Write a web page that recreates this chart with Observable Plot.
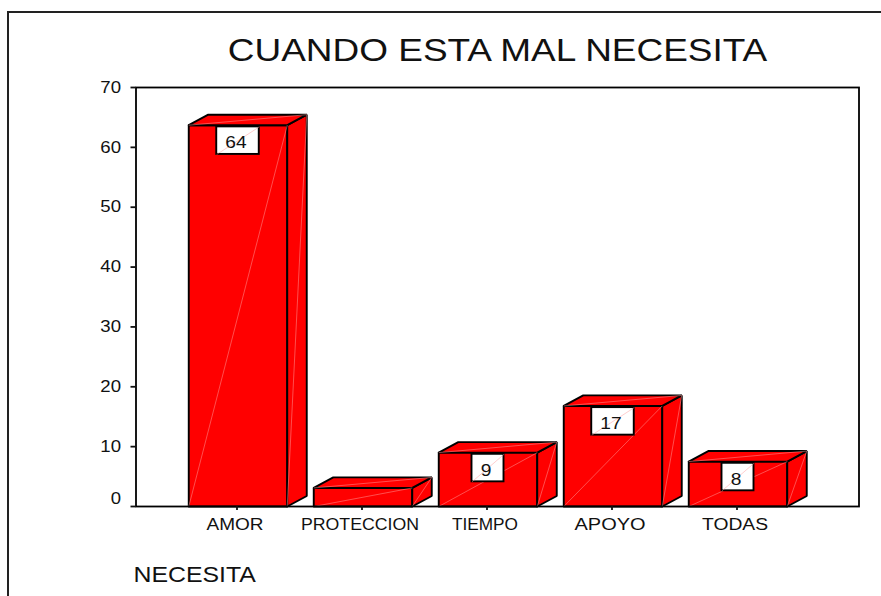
<!DOCTYPE html>
<html>
<head>
<meta charset="utf-8">
<script src="https://cdn.jsdelivr.net/npm/d3@7"></script>
<script src="https://cdn.jsdelivr.net/npm/@observablehq/plot@0.6"></script>
<style>
  html, body { margin: 0; padding: 0; background: #fff; }
  #page { position: relative; width: 881px; height: 596px; overflow: hidden; }
  #page svg { display: block; position: absolute; left: 0; top: 0; background: #fff; overflow: visible; }
  #border { position: absolute; left: 6.5px; top: 10.5px; right: -3px; bottom: -3px; border-left: 2px solid #222; border-top: 2px solid #222; pointer-events: none; }
</style>
</head>
<body>
<div id="page"><div id="border"></div></div>
<script>
const titleText = "CUANDO ESTA MAL NECESITA";
const axisTitle = "NECESITA";
const categories = ["AMOR", "PROTECCION", "TIEMPO", "APOYO", "TODAS"];
const values = [63.7, 3.1, 9, 16.8, 7.5];
const barLabels = ["64", null, "9", "17", "8"];
const yTicks = [10, 20, 30, 40, 50, 60, 70];
const categoryLabelWidths = {AMOR: 57, PROTECCION: 118, TIEMPO: 66, APOYO: 71, TODAS: 66};

const halfWidth = 0.394, depthX = 0.156, depthY = 1.76;
const fillRed = "#ff0000", pale = "#ff9c9c";

const faces = [], diagonals = [];
values.forEach((v, i) => {
  const l = i - halfWidth, r = i + halfWidth;
  const polys = {
    front: [[l, 0], [r, 0], [r, v], [l, v]],
    side: [[r, 0], [r + depthX, depthY], [r + depthX, v + depthY], [r, v]],
    top: [[l, v], [r, v], [r + depthX, v + depthY], [l + depthX, v + depthY]]
  };
  for (const [name, pts] of Object.entries(polys)) {
    [...pts, pts[0]].forEach(([x, y]) => faces.push({face: i + name, x, y}));
  }
  diagonals.push({x1: l, y1: 0, x2: r, y2: v});
  diagonals.push({x1: r, y1: 0, x2: r + depthX, y2: v + depthY});
  diagonals.push({x1: l, y1: v, x2: r + depthX, y2: v + depthY});
});

const boxes = barLabels.map((t, i) => t == null ? null : ({
  t, i,
  x1: i - (t.length > 1 ? 0.17 : 0.128),
  x2: i + (t.length > 1 ? 0.17 : 0.128),
  y2: values[i] - 0.28,
  y1: values[i] - 0.28 - 4.6
})).filter(Boolean);

const chart = Plot.plot({
  width: 881,
  height: 596,
  marginLeft: 135.5,
  marginRight: 22.5,
  marginTop: 87,
  marginBottom: 90,
  style: {fontFamily: "'Liberation Sans', Arial, sans-serif", color: "#111", background: "#fff"},
  x: {domain: [-0.816, 4.968], axis: null},
  y: {domain: [0, 70], axis: null},
  marks: [
    Plot.line(faces, {x: "x", y: "y", z: "face", fill: fillRed, stroke: "#000", strokeWidth: 1.9, strokeLinejoin: "miter"}),
    Plot.link(diagonals, {x1: "x1", y1: "y1", x2: "x2", y2: "y2", stroke: pale, strokeWidth: 0.5}),
    Plot.rect(boxes, {x1: "x1", x2: "x2", y1: "y1", y2: "y2", fill: "#fff", stroke: "#000", strokeWidth: 1.9}),
    Plot.link(boxes, {x1: "x1", y1: "y1", x2: "x2", y2: "y2", stroke: pale, strokeWidth: 0.5}),
    Plot.text(boxes, {x: "i", y: d => (d.y1 + d.y2) / 2, text: "t", fontSize: 17, fill: "#111", dx: -2, dy: 2}),
    Plot.frame({stroke: "#000", strokeWidth: 1.8}),
    Plot.axisX({ticks: categories.map((_, i) => i), text: null, tickSize: 4, anchor: "bottom", label: null, strokeWidth: 1.8, dx: -1}),
    Plot.axisX({ticks: categories.map((_, i) => i), tickFormat: i => categories[i], tickSize: 0, tickPadding: 12, fontSize: 16, tickRotate: 0, anchor: "bottom", label: null, fill: "#111", dx: -3}),
    Plot.axisY({ticks: yTicks, tickSize: 5, tickPadding: 10, fontSize: 16.5, anchor: "left", label: null, strokeWidth: 1.8, tickFormat: d => String(d)}),
    Plot.axisY({ticks: [0], tickSize: 5, text: null, anchor: "left", label: null, strokeWidth: 1.8}),
    Plot.axisY({ticks: [0], tickSize: 0, tickPadding: 15, fontSize: 16.5, anchor: "left", label: null, dy: -8, tickFormat: d => String(d)}),
    Plot.text([titleText], {frameAnchor: "top", dy: -37, lineAnchor: "middle", textAnchor: "middle", fontSize: 32, fill: "#111"}),
    Plot.text([axisTitle], {frameAnchor: "bottom-left", dx: -2.5, dy: 69, lineAnchor: "middle", textAnchor: "start", fontSize: 21.5, fill: "#111"})
  ]
});
document.getElementById("page").prepend(chart);

chart.querySelectorAll("text").forEach(t => {
  const s = t.textContent;
  const len = t.getComputedTextLength();
  const big = s === titleText || s === axisTitle;
  const target = categoryLabelWidths[s] ?? len * (big ? 1.155 : 1.125);
  t.setAttribute("textLength", target.toFixed(1));
  t.setAttribute("lengthAdjust", "spacingAndGlyphs");
});
</script>
</body>
</html>
